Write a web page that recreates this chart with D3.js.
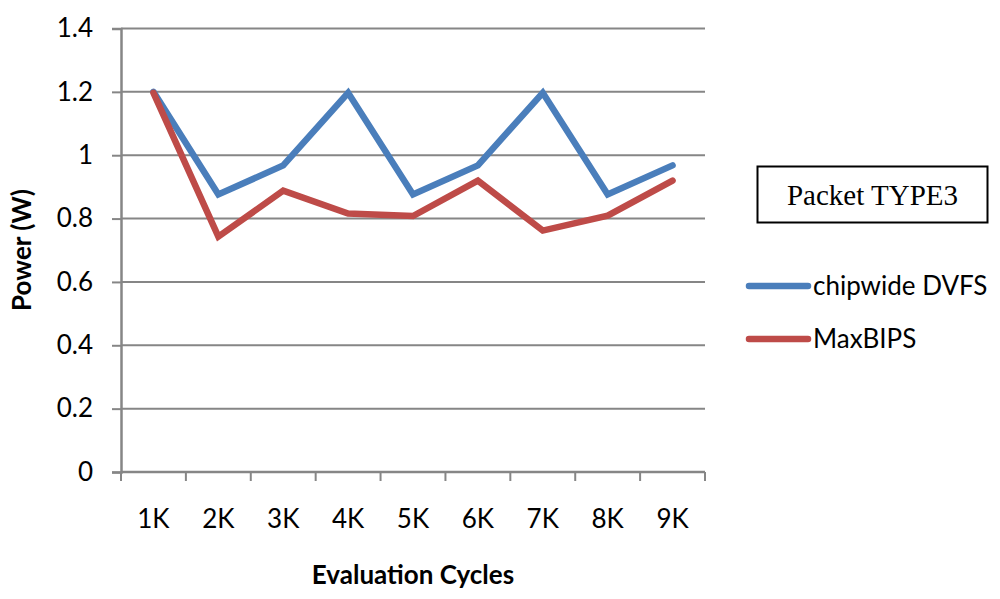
<!DOCTYPE html>
<html>
<head>
<meta charset="utf-8">
<script src="https://cdn.jsdelivr.net/npm/d3@7"></script>
<style>
  body{margin:0;background:#fff;}
  svg text{font-family:Lato,"Open Sans",sans-serif;fill:#000;}
</style>
</head>
<body>
<div id="chart"></div>
<script>
// data
const categories=["1K","2K","3K","4K","5K","6K","7K","8K","9K"];
const chipwideDVFS=[1.2,0.876,0.968,1.197,0.876,0.968,1.197,0.876,0.968];
const maxBIPS=[1.197,0.743,0.888,0.816,0.808,0.92,0.762,0.809,0.92];
const yTicks=[0,0.2,0.4,0.6,0.8,1,1.2,1.4];
const seriesNames=["chipwide DVFS","MaxBIPS"];
const seriesColors=["#4a7ebb","#be4b48"];

(function(){
  const W=1000,H=599;
  const L=121,R=705,T=28.5,B=472;
  const svg=d3.select('#chart').append('svg').attr('width',W).attr('height',H);

  const x=d3.scaleBand().domain(categories).range([L,R]);
  const y=d3.scaleLinear().domain([0,1.4]).range([B,T]);

  // horizontal gridlines
  svg.append('g').selectAll('line').data(yTicks.filter(d=>d>0)).join('line')
    .attr('x1',L).attr('x2',R).attr('y1',d=>y(d)).attr('y2',d=>y(d))
    .attr('stroke','#868686').attr('stroke-width',2);

  // y axis
  const yAxis=svg.append('g').attr('transform',`translate(${L},0)`)
    .call(d3.axisLeft(y).tickValues(yTicks).tickSize(9).tickPadding(19)
      .tickFormat(d=>d3.format('')(+d.toFixed(1))));
  yAxis.select('.domain').attr('stroke','#868686').attr('stroke-width',2.5);
  yAxis.selectAll('.tick line').attr('stroke','#868686').attr('stroke-width',2);
  yAxis.selectAll('.tick text').style('font-size','26px');

  // x axis: ticks at band boundaries
  const bounds=categories.map(c=>x(c)).concat([R]);
  svg.append('line').attr('x1',L).attr('x2',R).attr('y1',B).attr('y2',B)
    .attr('stroke','#868686').attr('stroke-width',2.5);
  svg.append('g').selectAll('line').data(bounds).join('line')
    .attr('x1',d=>d).attr('x2',d=>d).attr('y1',B).attr('y2',B+9)
    .attr('stroke','#868686').attr('stroke-width',2);
  svg.append('g').selectAll('text').data(categories).join('text')
    .attr('x',d=>x(d)+x.bandwidth()/2).attr('y',528)
    .attr('text-anchor','middle').style('font-size','26px').text(d=>d);

  // lines
  const line=d3.line().x((d,i)=>x(categories[i])+x.bandwidth()/2).y(d=>y(d));
  [chipwideDVFS,maxBIPS].forEach((s,k)=>{
    svg.append('path').datum(s).attr('d',line).attr('fill','none')
      .attr('stroke',seriesColors[k]).attr('stroke-width',6.5)
      .attr('stroke-linejoin','miter').attr('stroke-linecap','round');
  });

  // axis titles
  svg.append('text').attr('x',(L+R)/2).attr('y',584).attr('text-anchor','middle')
    .style('font-size','26px').style('font-weight','bold').text('Evaluation Cycles');
  svg.append('text').attr('transform','translate(31,250) rotate(-90)')
    .attr('text-anchor','middle').style('font-size','26px').style('font-weight','bold')
    .text('Power (W)');

  // title box
  svg.append('rect').attr('x',757.5).attr('y',166.5).attr('width',230).attr('height',56)
    .attr('fill','#fff').attr('stroke','#000').attr('stroke-width',2);
  svg.append('text').attr('x',872.5).attr('y',205).attr('text-anchor','middle')
    .style('font-family','"Liberation Serif","DejaVu Serif",serif').style('font-size','29px')
    .text('Packet TYPE3');

  // legend
  const leg=svg.append('g').selectAll('g').data(seriesNames).join('g')
    .attr('transform',(d,i)=>`translate(749,${286+i*53})`);
  leg.append('line').attr('x1',0).attr('x2',59).attr('stroke',(d,i)=>seriesColors[i])
    .attr('stroke-width',6.5).attr('stroke-linecap','round');
  leg.append('text').attr('x',64).attr('y',9).style('font-size','26px').text(d=>d);
})();
</script>
</body>
</html>
